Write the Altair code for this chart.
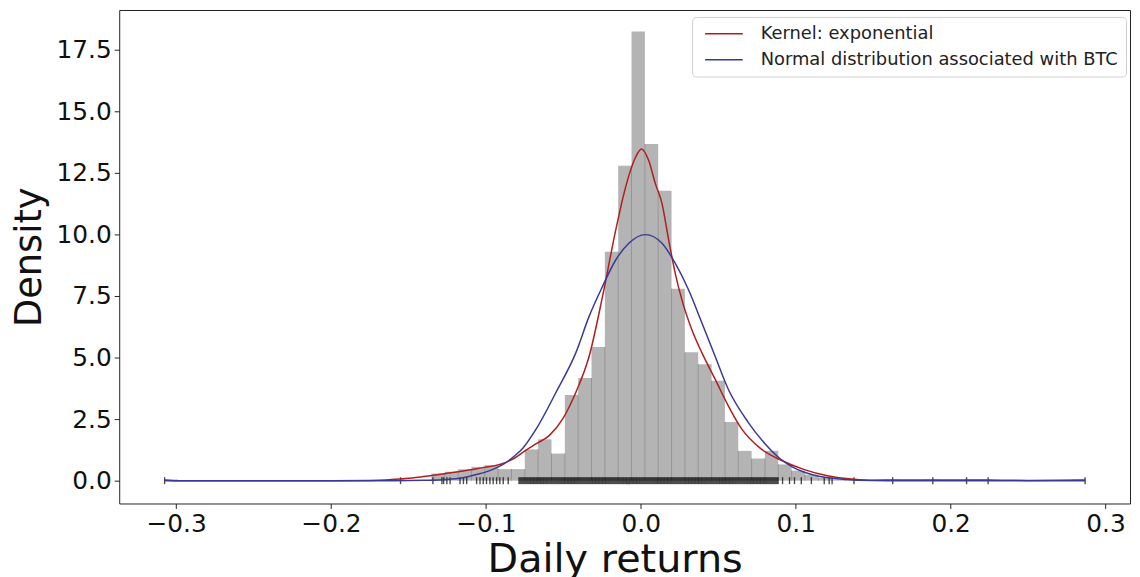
import altair as alt
import pandas as pd

# ---------------- data ----------------
bin_start = -0.3074
bin_width = 0.008612
bin_heights = [
    0.05, 0, 0, 0, 0, 0, 0, 0, 0, 0,
    0, 0, 0, 0, 0, 0, 0, 0.05, 0, 0,
    0.29, 0.36, 0.46, 0.56, 0.63, 0.47, 0.47, 1.27, 1.68, 1.10,
    3.48, 4.17, 5.43, 9.29, 12.79, 18.24, 13.67, 11.77, 7.79, 5.21,
    4.73, 4.06, 2.38, 1.21, 0.90, 1.21, 0.66, 0.41, 0.24, 0.12,
    0.05, 0.05, 0, 0, 0.05, 0, 0, 0.05, 0, 0,
    0.05, 0.05, 0, 0, 0, 0, 0, 0, 0.05,
]

kde_x = [-0.3074, -0.300, -0.250, -0.200, -0.175, -0.165, -0.158, -0.150, -0.142, -0.136,
         -0.127, -0.118, -0.110, -0.102, -0.095, -0.089, -0.082, -0.075, -0.0675, -0.059,
         -0.0504, -0.0419, -0.0333, -0.0247, -0.0162, -0.0098, -0.0034, 0.0004, 0.0051, 0.0094,
         0.0137, 0.018, 0.0222, 0.0265, 0.0329, 0.0394, 0.0479, 0.0564, 0.065, 0.0778,
         0.0906, 0.1056, 0.1205, 0.1376, 0.150, 0.165, 0.190, 0.210, 0.224, 0.250, 0.2868]
kde_y = [0.03, 0.0, 0.0, 0.0, 0.01, 0.03, 0.06, 0.10, 0.15, 0.20,
         0.28, 0.36, 0.44, 0.53, 0.60, 0.70, 0.90, 1.20, 1.50, 1.84,
         2.51, 3.59, 5.06, 7.48, 10.17, 11.92, 13.13, 13.47, 13.0, 12.06,
         11.25, 9.77, 8.43, 7.35, 6.14, 5.20, 4.13, 3.05, 2.11, 1.28,
         0.83, 0.45, 0.20, 0.06, 0.02, 0.03, 0.03, 0.03, 0.03, 0.01, 0.03]

norm_x = [-0.3074, -0.250, -0.200, -0.160, -0.140, -0.125, -0.115, -0.106, -0.097, -0.0889,
          -0.082, -0.076, -0.0675, -0.0547, -0.0419, -0.0333, -0.0247, -0.0162, -0.0077, 0.003,
          0.0137, 0.0222, 0.0308, 0.0394, 0.0479, 0.0564, 0.0692, 0.0799, 0.0896, 0.0980,
          0.1056, 0.115, 0.1248, 0.140, 0.160, 0.200, 0.250, 0.2868]
norm_y = [0.0, 0.0, 0.0, 0.0, 0.015, 0.05, 0.12, 0.25, 0.42, 0.66,
          0.98, 1.33, 2.10, 3.59, 5.20, 6.68, 7.89, 8.96, 9.64, 9.99,
          9.64, 8.83, 7.75, 6.41, 5.06, 3.72, 2.38, 1.52, 0.91, 0.55,
          0.34, 0.18, 0.09, 0.02, 0.0, 0.0, 0.0, 0.0]

# isolated rug ticks (tails)
rug_tail_x = [
    -0.3074, -0.1551, -0.1342, -0.1284, -0.1273, -0.1252, -0.1231, -0.1167, -0.1145, -0.1124,
    -0.1060, -0.1038, -0.1017, -0.0996, -0.0974, -0.0953, -0.0931, -0.0910, -0.0888, -0.0856,
    0.0915, 0.0960, 0.0992, 0.1036, 0.1101, 0.1184, 0.1216, 0.1235, 0.1376, 0.1626,
    0.1885, 0.2103, 0.2242, 0.2868,
]
# dense part of the rug (reads as a solid band)
rug_dense_x = [
    -0.078, -0.076, -0.074, -0.072, -0.070, -0.068, -0.066, -0.064, -0.062, -0.060,
    -0.058, -0.056, -0.054, -0.052, -0.050, -0.048, -0.046, -0.044, -0.042, -0.040,
    -0.038, -0.036, -0.034, -0.032, -0.030, -0.028, -0.026, -0.024, -0.022, -0.020,
    -0.018, -0.016, -0.014, -0.012, -0.010, -0.008, -0.006, -0.004, -0.002, 0.000,
    0.002, 0.004, 0.006, 0.008, 0.010, 0.012, 0.014, 0.016, 0.018, 0.020,
    0.022, 0.024, 0.026, 0.028, 0.030, 0.032, 0.034, 0.036, 0.038, 0.040,
    0.042, 0.044, 0.046, 0.048, 0.050, 0.052, 0.054, 0.056, 0.058, 0.060,
    0.062, 0.064, 0.066, 0.068, 0.070, 0.072, 0.074, 0.076, 0.078, 0.080,
    0.082, 0.084, 0.086, 0.088,
]

series_names = ["Kernel: exponential", "Normal distribution associated with BTC"]
series_colors = ["#b01e1e", "#3a3a96"]

# ---------------- tables ----------------
hist_rows = []
for k, h in enumerate(bin_heights):
    if h > 0:
        left = bin_start + k * bin_width
        hist_rows.append({"x": left, "x2": left + bin_width, "h": h})
hist_df = pd.DataFrame(hist_rows)

sep_rows = []
for k in range(1, len(bin_heights)):
    top = min(bin_heights[k - 1], bin_heights[k])
    if top > 0:
        sep_rows.append({"x": bin_start + k * bin_width, "top": top})
sep_df = pd.DataFrame(sep_rows)

curve_df = pd.concat([
    pd.DataFrame({"x": kde_x, "y": kde_y, "series": series_names[0], "o": range(len(kde_x))}),
    pd.DataFrame({"x": norm_x, "y": norm_y, "series": series_names[1], "o": range(len(norm_x))}),
])

rug_tail_df = pd.DataFrame({"x": rug_tail_x, "y": [0.0] * len(rug_tail_x)})
rug_dense_df = pd.DataFrame({"x": rug_dense_x, "y": [0.0] * len(rug_dense_x)})

# ---------------- scales ----------------
xscale = alt.Scale(domain=[-0.3367, 0.3158], nice=False, zero=False)
yscale = alt.Scale(domain=[-0.927, 19.11], nice=False, zero=False)

xaxis = alt.Axis(
    title="Daily returns",
    values=[-0.3, -0.2, -0.1, 0.0, 0.1, 0.2, 0.3],
    format=".1f",
    labelExpr="replace(datum.label, '-', '\u2212')",
    grid=False,
    titlePadding=3,
    titleFontSize=40,
    titleX=499,
)
yaxis = alt.Axis(
    title="Density",
    values=[0, 2.5, 5, 7.5, 10, 12.5, 15, 17.5],
    format=".1f",
    grid=False,
    titlePadding=8,
    titleFontSize=37,
)

bars = alt.Chart(hist_df).mark_rect(color="#b4b4b4").encode(
    x=alt.X("x:Q", scale=xscale, axis=xaxis),
    x2="x2:Q",
    y=alt.Y("h:Q", scale=yscale, axis=yaxis),
    y2=alt.datum(0),
)

seps = alt.Chart(sep_df).mark_rule(color="#939393", strokeWidth=1).encode(
    x="x:Q",
    y="top:Q",
    y2=alt.datum(0),
)

rug_tail = alt.Chart(rug_tail_df).mark_tick(color="black", size=7, thickness=1.4, orient="vertical").encode(
    x="x:Q",
    y="y:Q",
)
rug_dense = alt.Chart(rug_dense_df).mark_tick(color="black", size=7, thickness=3.4, orient="vertical").encode(
    x="x:Q",
    y="y:Q",
)

lines = alt.Chart(curve_df).mark_line(strokeWidth=1.5, interpolate="monotone").encode(
    x="x:Q",
    y="y:Q",
    order="o:Q",
    color=alt.Color(
        "series:N",
        scale=alt.Scale(domain=series_names, range=series_colors),
        sort=series_names,
        legend=alt.Legend(
            title=None,
            orient="none",
            legendX=577,
            legendY=7,
            symbolType="M-4,0H4",
            symbolSize=90,
            symbolStrokeWidth=1.5,
            symbolOffset=15,
            labelFontSize=18,
            labelFont="DejaVu Sans",
            labelColor="#222222",
            labelOffset=28,
            labelLimit=0,
            rowPadding=8,
            padding=8,
            strokeColor="#d0d0d0",
            fillColor="#ffffff",
            cornerRadius=4,
        ),
    ),
)

chart = alt.layer(bars, seps, rug_dense, rug_tail, lines).properties(
    width=1018,
    height=497,
    autosize=alt.AutoSizeParams(type="none"),
    padding={"left": 112, "top": 0, "right": 2, "bottom": 72},
).configure_view(
    stroke="#222222",
    strokeWidth=1,
).configure_axis(
    labelFont="DejaVu Sans",
    labelFontSize=25,
    labelColor="#111111",
    titleFont="DejaVu Sans",
    titleFontWeight="normal",
    titleColor="#111111",
    tickColor="#222222",
    tickSize=5,
    tickWidth=1,
    domain=False,
    labelPadding=3,
)

chart.save("out.html", embed_options={"renderer": "svg", "actions": False})
